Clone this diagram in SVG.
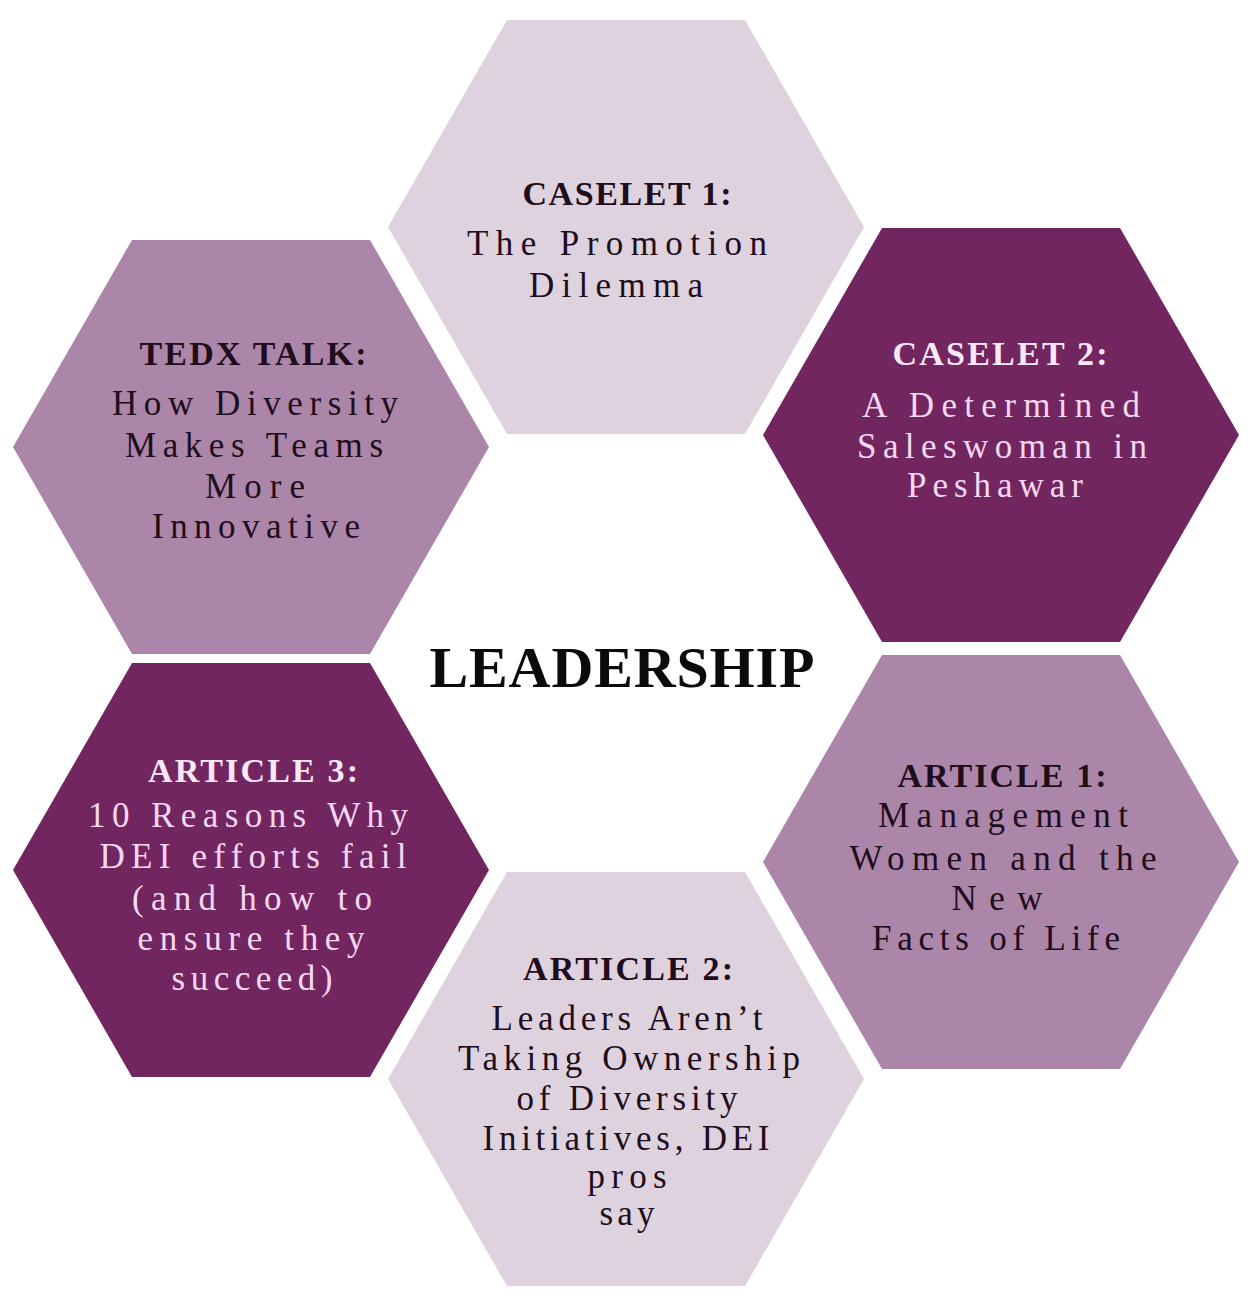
<svg xmlns="http://www.w3.org/2000/svg" width="1260" height="1300" viewBox="0 0 1260 1300">
<style>
.light{fill:#ddd2dd}
.mid{fill:#ab86a8}
.dark{fill:#722660}
text{font-family:"Liberation Serif","Times New Roman",serif;text-anchor:middle}
.h{font-weight:bold;font-size:34px}
.b{font-size:35px}
.ink{fill:#1f0d1c}
.pale{fill:#f6d8f2}
.paleh{fill:#fae8f7}
</style>
<defs>
<polygon id="hex" points="-238,0 -119,-207 119,-207 238,0 119,207 -119,207"/>
</defs>
<rect width="1260" height="1300" fill="#ffffff"/>
<g id="connectors"/>
<g id="caselet1">
<use href="#hex" class="light" x="626" y="227"/>
<text class="h ink" x="627" y="205" textLength="209" lengthAdjust="spacing">CASELET 1:</text>
<text class="b ink" x="617" y="255" textLength="300" lengthAdjust="spacing">The Promotion</text>
<text class="b ink" x="616" y="297" textLength="174" lengthAdjust="spacing">Dilemma</text>
</g>
<g id="caselet2">
<use href="#hex" class="dark" x="1001" y="435"/>
<text class="h paleh" x="1000" y="365" textLength="215" lengthAdjust="spacing">CASELET 2:</text>
<text class="b pale" x="1001" y="417" textLength="278" lengthAdjust="spacing">A Determined</text>
<text class="b pale" x="1002" y="458" textLength="290" lengthAdjust="spacing">Saleswoman in</text>
<text class="b pale" x="995" y="497" textLength="176" lengthAdjust="spacing">Peshawar</text>
</g>
<g id="tedx">
<use href="#hex" class="mid" x="251" y="447"/>
<text class="h ink" x="253" y="365" textLength="227" lengthAdjust="spacing">TEDX TALK:</text>
<text class="b ink" x="255" y="415" textLength="286" lengthAdjust="spacing">How Diversity</text>
<text class="b ink" x="254" y="457" textLength="258" lengthAdjust="spacing">Makes Teams</text>
<text class="b ink" x="255" y="498" textLength="100" lengthAdjust="spacing">More</text>
<text class="b ink" x="256" y="538" textLength="208" lengthAdjust="spacing">Innovative</text>
</g>
<g id="article3">
<use href="#hex" class="dark" x="251" y="870"/>
<text class="h paleh" x="253" y="782" textLength="210" lengthAdjust="spacing">ARTICLE 3:</text>
<text class="b pale" x="248" y="827" textLength="320" lengthAdjust="spacing">10 Reasons Why</text>
<text class="b pale" x="253" y="868" textLength="307" lengthAdjust="spacing">DEI efforts fail</text>
<text class="b pale" x="252" y="910" textLength="240" lengthAdjust="spacing">(and how to</text>
<text class="b pale" x="251" y="950" textLength="227" lengthAdjust="spacing">ensure they</text>
<text class="b pale" x="252" y="990" textLength="161" lengthAdjust="spacing">succeed)</text>
</g>
<g id="article1">
<use href="#hex" class="mid" x="1001" y="862"/>
<text class="h ink" x="1002" y="787" textLength="209" lengthAdjust="spacing">ARTICLE 1:</text>
<text class="b ink" x="1003" y="827" textLength="250" lengthAdjust="spacing">Management</text>
<text class="b ink" x="1003" y="870" textLength="307" lengthAdjust="spacing">Women and the</text>
<text class="b ink" x="997" y="910" textLength="91" lengthAdjust="spacing">New</text>
<text class="b ink" x="996" y="950" textLength="248" lengthAdjust="spacing">Facts of Life</text>
</g>
<g id="article2">
<use href="#hex" class="light" x="626" y="1079"/>
<text class="h ink" x="628" y="980" textLength="210" lengthAdjust="spacing">ARTICLE 2:</text>
<text class="b ink" x="627" y="1030" textLength="271" lengthAdjust="spacing">Leaders Aren’t</text>
<text class="b ink" x="629" y="1070" textLength="342" lengthAdjust="spacing">Taking Ownership</text>
<text class="b ink" x="627" y="1110" textLength="221" lengthAdjust="spacing">of Diversity</text>
<text class="b ink" x="626" y="1150" textLength="287" lengthAdjust="spacing">Initiatives, DEI</text>
<text class="b ink" x="627" y="1188" textLength="79" lengthAdjust="spacing">pros</text>
<text class="b ink" x="627" y="1225" textLength="55" lengthAdjust="spacing">say</text>
</g>
<g id="leadership">
<text x="622" y="687" font-weight="bold" font-size="58" fill="#0d0a0d" textLength="385" lengthAdjust="spacing">LEADERSHIP</text>
</g>
</svg>
